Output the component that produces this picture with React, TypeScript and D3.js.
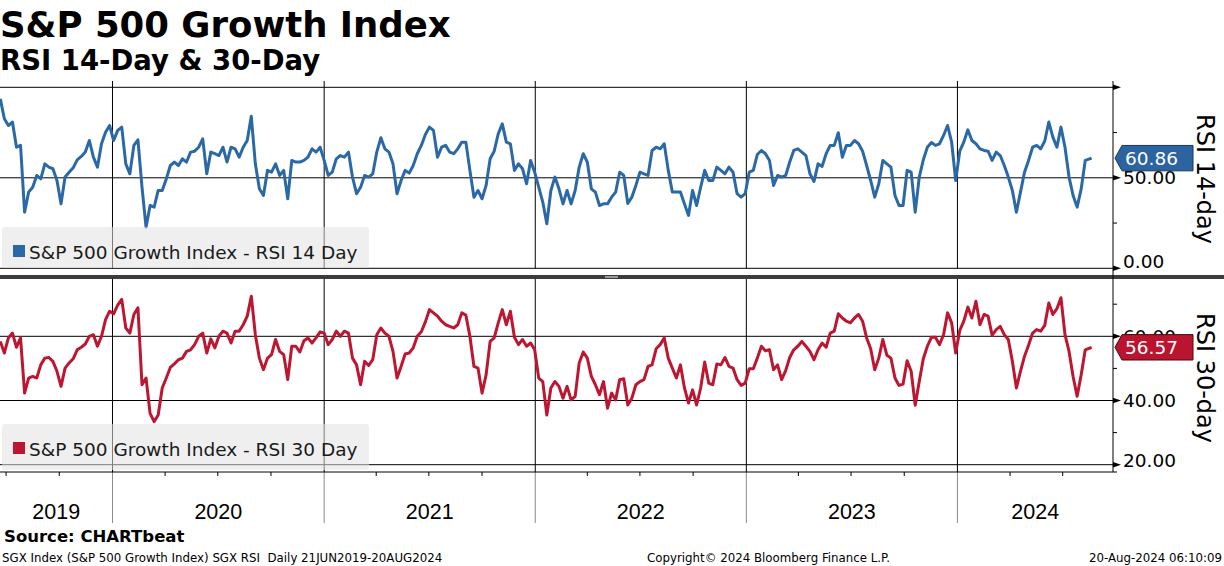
import * as d3 from "d3";

const W = 1224;
const H = 566;

// weekly samples starting 2019-06-21, last reading 2024-08-20
const seriesStart = new Date(2019, 5, 21);
const lastDate = new Date(2024, 7, 20);
const axisEnd = new Date(2024, 8, 26);
const years = [2019, 2020, 2021, 2022, 2023, 2024];

const rsi14Weekly = [
  93.6, 82.6, 78.9, 80.8, 66.9, 67.9, 31.0, 42.1, 44.8, 51.3,
  49.4, 57.7, 55.9, 55.0, 48.5, 35.6, 50.4, 53.1, 55.5, 59.9,
  61.8, 64.2, 70.6, 61.4, 55.9, 68.8, 75.2, 78.9, 70.6, 76.2,
  78.0, 57.7, 52.2, 67.9, 71.0, 44.8, 22.7, 34.7, 33.8, 43.0,
  43.0, 49.4, 56.8, 58.7, 56.8, 60.5, 58.7, 64.2, 64.7, 66.9,
  71.5, 52.2, 64.2, 63.3, 62.3, 66.9, 58.7, 66.9, 66.0, 61.4,
  66.9, 70.6, 84.0, 57.7, 43.9, 40.2, 54.1, 53.1, 57.7, 51.3,
  54.1, 38.4, 59.6, 58.7, 58.7, 59.6, 61.4, 66.0, 64.2, 66.9,
  59.6, 51.3, 53.1, 60.5, 62.3, 61.4, 64.2, 50.4, 41.2, 44.8,
  51.3, 50.4, 52.2, 64.2, 72.1, 66.0, 64.2, 57.7, 41.2,
  48.5, 54.1, 52.6, 56.8, 63.3, 67.9, 73.9, 78.0, 76.2, 61.4,
  66.9, 67.9, 64.2, 63.3, 66.0, 69.7, 69.7, 54.1, 39.3, 43.0,
  38.4, 45.8, 60.5, 64.7, 74.3, 79.8, 69.7, 68.8, 54.1, 57.7,
  55.0, 46.7, 59.6, 53.1, 44.8, 36.6, 24.6, 43.0, 50.4, 43.9,
  35.6, 43.0, 35.6, 43.0, 55.9, 63.3, 58.7, 43.9, 42.1, 34.7,
  35.6, 35.6, 39.3, 42.1, 53.1, 51.3, 35.8, 39.3, 45.8, 53.1,
  52.2, 51.3, 65.1, 66.9, 66.0, 68.8, 54.1, 42.1, 42.1, 42.1,
  35.6, 29.2, 43.0, 34.7, 44.8, 54.1, 48.5, 48.5, 55.9, 54.1,
  52.2, 55.9, 53.1, 41.2, 39.3, 41.2, 53.1, 54.1, 62.9, 65.1,
  63.3, 59.6, 45.8, 51.3, 50.4, 51.3, 58.7, 65.1,
  66.0, 64.2, 62.3, 52.2, 48.0, 57.7, 56.3, 63.3, 67.9, 67.9,
  74.9, 61.4, 67.9, 67.9, 70.6, 68.8, 64.7, 56.8, 48.5, 39.3,
  46.7, 59.6, 57.7, 55.9, 40.2, 34.7, 34.7, 54.1, 53.1, 31.0,
  50.4, 59.9, 66.9, 69.5, 67.9, 68.8, 73.4, 78.9, 69.7, 48.5,
  64.7, 69.7, 76.5, 70.6, 68.8, 66.0, 65.1, 64.7, 59.6, 64.2,
  62.3, 56.8, 50.4, 43.0, 31.0, 42.1, 53.1, 59.6, 66.9, 67.9,
  66.0, 70.3, 80.8, 72.5, 66.9, 78.0, 66.9, 50.4, 40.2, 33.8,
  43.9, 59.6,
];
const rsi14Last = 60.86;

const rsi30Weekly = [
  58.4, 54.8, 59.5, 61.0, 56.6, 59.5, 42.3, 47.0, 47.5, 47.0,
  51.1, 53.2, 53.4, 52.2, 49.1, 44.4, 50.1, 51.7, 53.0, 55.8,
  56.6, 57.6, 60.0, 60.5, 56.9, 60.0, 65.2, 67.8, 67.0, 69.7,
  71.5, 62.6, 61.0, 66.8, 68.9, 44.9, 47.0, 36.0, 33.4, 35.5,
  43.9, 47.0, 50.3, 51.4, 52.7, 53.2, 55.3, 55.8, 57.4, 60.0,
  61.0, 54.8, 59.2, 56.4, 60.0, 61.6, 61.0, 57.9, 61.6, 61.6,
  63.6, 66.3, 72.5, 60.5, 53.2, 49.6, 53.2, 54.3, 59.0, 55.3,
  54.3, 46.5,
  56.9, 56.9, 55.1, 58.6, 59.5, 57.9, 59.5, 61.4, 61.0, 57.4,
  59.0, 61.6, 60.0, 61.6, 61.0, 53.2, 51.1, 44.9, 52.2, 50.9,
  52.7, 60.5, 62.6, 61.0, 60.0, 55.3, 47.0, 50.6, 54.5, 54.8,
  56.4, 60.0, 61.4, 64.5, 68.3, 67.3, 66.3, 64.7, 63.6, 63.1,
  62.6, 63.6, 67.3, 66.6, 60.0, 50.6, 50.1, 42.3, 48.0, 58.4,
  59.5, 64.2, 68.3, 63.6, 67.8, 59.7, 57.4, 59.0, 56.9, 57.9,
  55.8, 47.0, 45.9, 35.5, 43.9, 45.9, 44.4, 40.7, 44.4,
  40.2, 41.3, 51.7, 55.1, 53.2, 47.5, 44.9, 41.8, 45.9, 37.6,
  42.3, 40.2, 46.5, 46.8, 38.6, 40.7, 44.9, 45.9, 46.5, 50.6,
  51.1, 56.1, 57.4, 59.5, 53.2, 50.1, 47.0, 51.1, 43.9, 39.2,
  43.3, 38.6, 43.9, 52.0, 45.4, 44.9, 51.4, 51.1, 53.4, 50.6,
  50.1, 46.5, 44.7, 45.4, 49.9, 49.9, 53.2, 56.9, 55.5, 55.8,
  49.6, 51.1, 46.5, 49.3, 53.4, 55.8, 56.9, 58.4, 56.9, 55.3,
  52.7, 55.8, 57.9, 56.6, 61.0, 61.6, 67.0, 65.7,
  64.7, 64.2, 65.7, 66.8, 64.7, 59.5, 56.1, 49.6, 53.2, 59.0,
  54.1, 53.2, 47.0, 44.7, 45.1, 52.4, 49.1, 38.5, 45.9, 53.0,
  56.9, 59.7, 59.7, 57.4, 60.5, 67.3, 64.2, 54.8, 61.8, 64.7,
  69.1, 65.7, 70.9, 63.6, 66.8, 66.3, 60.3, 62.1, 63.1, 60.5,
  59.0, 52.2, 43.9, 49.1, 53.8, 57.2, 61.0, 62.1, 61.6, 63.4,
  70.4, 66.8, 68.6, 72.0, 60.5, 55.3, 47.5, 41.3, 48.0, 55.8,
];
const rsi30Last = 56.57;

const topMajor = [0, 50, 100];
const topMinor = [25, 75];
const topLabels = [50, 0];
const botMajor = [20, 40, 60];
const botMinor = [30, 50, 70];
const botLabels = [60, 40, 20];

const BLUE = "#2a68a6";
const RED = "#bd1631";
const AX = 1113;

type Pt = { date: Date; value: number };

function toPoints(values: number[], last: number): Pt[] {
  const pts = values.map((v, i) => ({ date: d3.timeDay.offset(seriesStart, 7 * i), value: v }));
  pts.push({ date: lastDate, value: last });
  return pts;
}

const fmt = d3.format(".2f");

export default function App() {
  const x = d3.scaleTime().domain([seriesStart, axisEnd]).range([0.3, AX]);
  const yTop = d3.scaleLinear().domain([0, 100]).range([268.3, 87.3]);
  const yBot = d3.scaleLinear().domain([20, 60]).range([464.7, 336.3]);

  const top = toPoints(rsi14Weekly, rsi14Last);
  const bot = toPoints(rsi30Weekly, rsi30Last);

  const lineTop = d3
    .line<Pt>()
    .x((d) => x(d.date))
    .y((d) => yTop(d.value));
  const lineBot = d3
    .line<Pt>()
    .x((d) => x(d.date))
    .y((d) => yBot(d.value));

  const yearStarts = years.slice(1).map((y) => new Date(y, 0, 1));
  const quarterTicks = d3
    .timeMonth.every(3)!
    .range(seriesStart, axisEnd)
    .filter((d) => d.getMonth() !== 0);

  const yearLabel = (yr: number) => {
    const a = Math.max(0, x(new Date(yr, 0, 1)));
    const b = Math.min(AX, x(new Date(yr + 1, 0, 1)));
    return (a + b) / 2;
  };

  const tag = (yc: number) =>
    `M${AX + 2},${yc} L${AX + 9},${yc - 12.7} L1193,${yc - 12.7} L1193,${yc + 12.7} L${AX + 9},${yc + 12.7} Z`;

  const arrow = (y: number) => `M${AX},${y - 2.8} L${AX + 8},${y} L${AX},${y + 2.8} Z`;

  const font = "DejaVu Sans, Verdana, sans-serif";

  return (
    <svg
      width={W}
      height={H}
      style={{ position: "absolute", left: 0, top: 0, background: "#fff" }}
      fontFamily={font}
    >
      {/* titles */}
      <text x={0} y={37} fontSize={35.5} fontWeight="bold">
        S&amp;P 500 Growth Index
      </text>
      <text x={0} y={70} fontSize={27.5} fontWeight="bold">
        RSI 14-Day &amp; 30-Day
      </text>

      {/* top panel grid */}
      {topMajor.map((v) => (
        <line key={"tg" + v} x1={0} x2={AX} y1={yTop(v)} y2={yTop(v)} stroke="#000" strokeWidth={1} />
      ))}
      {yearStarts.map((d) => (
        <line key={"tv" + d.getFullYear()} x1={x(d)} x2={x(d)} y1={81} y2={268.3} stroke="#000" strokeWidth={1} />
      ))}
      {/* bottom panel grid */}
      {botMajor.map((v) => (
        <line key={"bg" + v} x1={0} x2={AX} y1={yBot(v)} y2={yBot(v)} stroke="#000" strokeWidth={1} />
      ))}
      {yearStarts.map((d) => (
        <line key={"bv" + d.getFullYear()} x1={x(d)} x2={x(d)} y1={279} y2={472} stroke="#000" strokeWidth={1} />
      ))}
      {yearStarts.map((d) => (
        <line key={"xv" + d.getFullYear()} x1={x(d)} x2={x(d)} y1={472} y2={523} stroke="#8a8a8a" strokeWidth={1} />
      ))}

      {/* series */}
      <path d={lineTop(top) ?? ""} fill="none" stroke={BLUE} strokeWidth={3} strokeLinejoin="round" />
      <path d={lineBot(bot) ?? ""} fill="none" stroke={RED} strokeWidth={3} strokeLinejoin="round" />

      {/* legends */}
      <rect x={2} y={227} width={367} height={41} rx={3} fill="#e2e2e2" fillOpacity={0.55} />
      <rect x={13} y={245} width={12} height={12} fill={BLUE} />
      <text x={29} y={258.5} fontSize={18.5} fill="#1a1a1a">
        S&amp;P 500 Growth Index - RSI 14 Day
      </text>
      <rect x={2} y={424} width={367} height={46} rx={3} fill="#e2e2e2" fillOpacity={0.55} />
      <rect x={13} y={442} width={12} height={12} fill={RED} />
      <text x={29} y={455.5} fontSize={18.5} fill="#1a1a1a">
        S&amp;P 500 Growth Index - RSI 30 Day
      </text>

      {/* panel splitter */}
      <rect x={0} y={275} width={W} height={4} fill="#3c3c3c" />
      <rect x={605} y={276} width={13} height={2} fill="#9a9a9a" />

      {/* x axis */}
      <line x1={0} x2={AX} y1={472} y2={472} stroke="#000" strokeWidth={1} />
      {quarterTicks.map((d) => (
        <line key={"q" + +d} x1={x(d)} x2={x(d)} y1={472} y2={476} stroke="#000" strokeWidth={1} />
      ))}
      {years.map((yr) => (
        <text
          key={"yl" + yr}
          x={yearLabel(yr)}
          y={519}
          fontSize={21.5}
          fontFamily="Liberation Sans, Arial, sans-serif"
          textAnchor="middle"
        >
          {yr}
        </text>
      ))}

      {/* right axis */}
      <line x1={AX} x2={AX} y1={81} y2={472} stroke="#000" strokeWidth={1} />
      {topMajor.map((v) => (
        <path key={"ta" + v} d={arrow(yTop(v))} fill="#000" />
      ))}
      {topMinor.map((v) => (
        <line key={"tm" + v} x1={AX} x2={AX + 4} y1={yTop(v)} y2={yTop(v)} stroke="#000" />
      ))}
      {botMajor.map((v) => (
        <path key={"ba" + v} d={arrow(yBot(v))} fill="#000" />
      ))}
      {botMinor.map((v) => (
        <line key={"bm" + v} x1={AX} x2={AX + 4} y1={yBot(v)} y2={yBot(v)} stroke="#000" />
      ))}
      <line x1={AX} x2={AX + 4} y1={472} y2={472} stroke="#000" />
      {topLabels.map((v) => (
        <text key={"tl" + v} x={1123} y={Math.min(yTop(v), 261)} dy="0.36em" fontSize={18.5}>
          {fmt(v)}
        </text>
      ))}
      {botLabels.map((v) => (
        <text key={"bl" + v} x={1123} y={Math.min(yBot(v), 460)} dy="0.36em" fontSize={18.5}>
          {fmt(v)}
        </text>
      ))}

      {/* last value tags */}
      <path d={tag(yTop(rsi14Last))} fill="#2b64a0" stroke="#16375c" strokeWidth={1} />
      <text x={1125} y={yTop(rsi14Last)} dy="0.36em" fontSize={18.5} fill="#fff">
        {fmt(rsi14Last)}
      </text>
      <path d={tag(yBot(rsi30Last))} fill="#b9152f" stroke="#4a0a12" strokeWidth={1} />
      <text x={1125} y={yBot(rsi30Last)} dy="0.36em" fontSize={18.5} fill="#fff">
        {fmt(rsi30Last)}
      </text>

      {/* axis titles */}
      <text transform="translate(1197,179) rotate(90)" textAnchor="middle" fontSize={24}>
        RSI 14-day
      </text>
      <text transform="translate(1197,378) rotate(90)" textAnchor="middle" fontSize={24}>
        RSI 30-day
      </text>

      {/* footer */}
      <text x={4} y={542} fontSize={16.5} fontWeight="bold">
        Source: CHARTbeat
      </text>
      <text x={2} y={562} fontSize={11.8}>
        SGX Index (S&amp;P 500 Growth Index) SGX RSI{"\u00a0\u00a0"}Daily 21JUN2019-20AUG2024
      </text>
      <text x={647} y={562} fontSize={11.8}>
        Copyright© 2024 Bloomberg Finance L.P.
      </text>
      <text x={1222} y={562} fontSize={11.8} textAnchor="end">
        20-Aug-2024 06:10:09
      </text>
    </svg>
  );
}
